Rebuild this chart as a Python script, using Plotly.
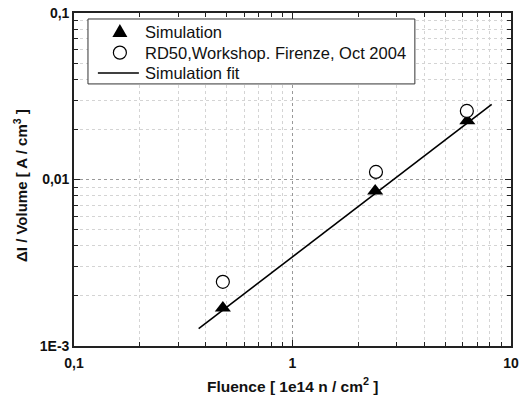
import plotly.graph_objects as go

# Leakage-current increase per volume versus fluence
sim_fluence = [0.48, 2.39, 6.31]
sim_current = [0.00169, 0.00853, 0.0225]

rd50_fluence = [0.48, 2.41, 6.28]
rd50_current = [0.00243, 0.0111, 0.0258]

fit_fluence = [0.372, 8.16]
fit_current = [0.00127, 0.0283]

series_names = ["Simulation", "RD50,Workshop. Firenze, Oct 2004", "Simulation fit"]

x_tickvals = [0.1, 1, 10]
x_ticktext = ["0,1", "1", "10"]
y_tickvals = [0.001, 0.01, 0.1]
y_ticktext = ["1E-3", "0,01", "0,1"]

FONT = "Arial, Liberation Sans, sans-serif"

x_minor = [m * d for d in (0.1, 1) for m in range(2, 10)]
y_minor = [m * d for d in (0.001, 0.01) for m in range(2, 10)]

fig = go.Figure()
fig.add_trace(go.Scatter(
    x=sim_fluence, y=sim_current, mode="markers", name=series_names[0],
    marker=dict(symbol="triangle-up", size=14, color="black",
                line=dict(width=0)),
))
fig.add_trace(go.Scatter(
    x=rd50_fluence, y=rd50_current, mode="markers", name=series_names[1],
    marker=dict(symbol="circle", size=13, color="white",
                line=dict(width=1.2, color="black")),
))
fig.add_trace(go.Scatter(
    x=fit_fluence, y=fit_current, mode="lines", name=series_names[2],
    line=dict(color="black", width=1.6),
))

axis_common = dict(
    type="log", automargin=False,
    showline=True, linecolor="#222", linewidth=1.6, mirror="ticks",
    ticks="inside", ticklen=6, tickwidth=1.2, tickcolor="#222",
    tickmode="array",
    showgrid=True, gridcolor="#999", griddash="dot", gridwidth=1,
    zeroline=False,
    tickfont=dict(family=FONT, size=14, color="#111", weight="bold"),
)

fig.update_xaxes(
    **axis_common,
    range=[-1, 1], tickvals=x_tickvals, ticktext=x_ticktext,
    ticklabelstandoff=3,
    minor=dict(tickmode="array", tickvals=x_minor, ticks="inside",
               ticklen=4, tickwidth=1.2, tickcolor="#222",
               showgrid=True, gridcolor="#d4d4d4", griddash="dot",
               gridwidth=1),
)
fig.update_yaxes(
    **axis_common,
    range=[-3, -1], tickvals=y_tickvals, ticktext=y_ticktext,
    minor=dict(tickmode="array", tickvals=y_minor, ticks="inside",
               ticklen=4, tickwidth=1.2, tickcolor="#222",
               showgrid=True, gridcolor="#d4d4d4", griddash="dot",
               gridwidth=1),
)

# Compact legend box (tighter row spacing than the built-in legend)
leg_x0, leg_x1, leg_y0, leg_y1 = 0.032, 0.780, 0.787, 0.982
row_y = [0.943, 0.881, 0.820]
sym_x = 0.105
text_x = 0.158

shapes = [
    dict(type="rect", xref="paper", yref="paper",
         x0=leg_x0, x1=leg_x1, y0=leg_y0, y1=leg_y1,
         line=dict(color="#333", width=1), fillcolor="white", layer="above"),
    dict(type="path", xref="paper", yref="paper",
         xsizemode="pixel", ysizemode="pixel", xanchor=sym_x, yanchor=row_y[0],
         path="M-7.5,-5 L7.5,-5 L0,8 Z",
         line=dict(width=0), fillcolor="black", layer="above"),
    dict(type="circle", xref="paper", yref="paper",
         xsizemode="pixel", ysizemode="pixel", xanchor=sym_x, yanchor=row_y[1],
         x0=-6.5, x1=6.5, y0=-6.5, y1=6.5,
         line=dict(color="black", width=1.2), fillcolor="white", layer="above"),
    dict(type="line", xref="paper", yref="paper",
         xsizemode="pixel", xanchor=sym_x, x0=-22, x1=19,
         y0=row_y[2], y1=row_y[2],
         line=dict(color="black", width=1.6), layer="above"),
]

annotations = [
    dict(text=name, xref="paper", yref="paper", x=text_x, y=yy,
         xanchor="left", yanchor="middle", showarrow=False,
         font=dict(family=FONT, size=16.5, color="#111"))
    for name, yy in zip(series_names, row_y)
]
annotations += [
    dict(text="Fluence [ 1e14 n / cm<sup>2</sup> ]",
         xref="paper", yref="paper", x=0.5, y=-0.117,
         xanchor="center", yanchor="middle", showarrow=False,
         font=dict(family=FONT, size=15.5, color="#111", weight="bold")),
    dict(text="ΔI / Volume [ A / cm<sup>3</sup> ]",
         xref="paper", yref="paper", x=-0.124, y=0.483,
         xanchor="center", yanchor="middle", showarrow=False,
         textangle=-90,
         font=dict(family=FONT, size=15, color="#111", weight="bold")),
]

fig.update_layout(
    width=521, height=401,
    margin=dict(l=74, r=10, t=13, b=55),
    paper_bgcolor="white", plot_bgcolor="white",
    font=dict(family=FONT, color="#111"),
    showlegend=False,
    shapes=shapes,
    annotations=annotations,
)

fig.write_html("out.html")
